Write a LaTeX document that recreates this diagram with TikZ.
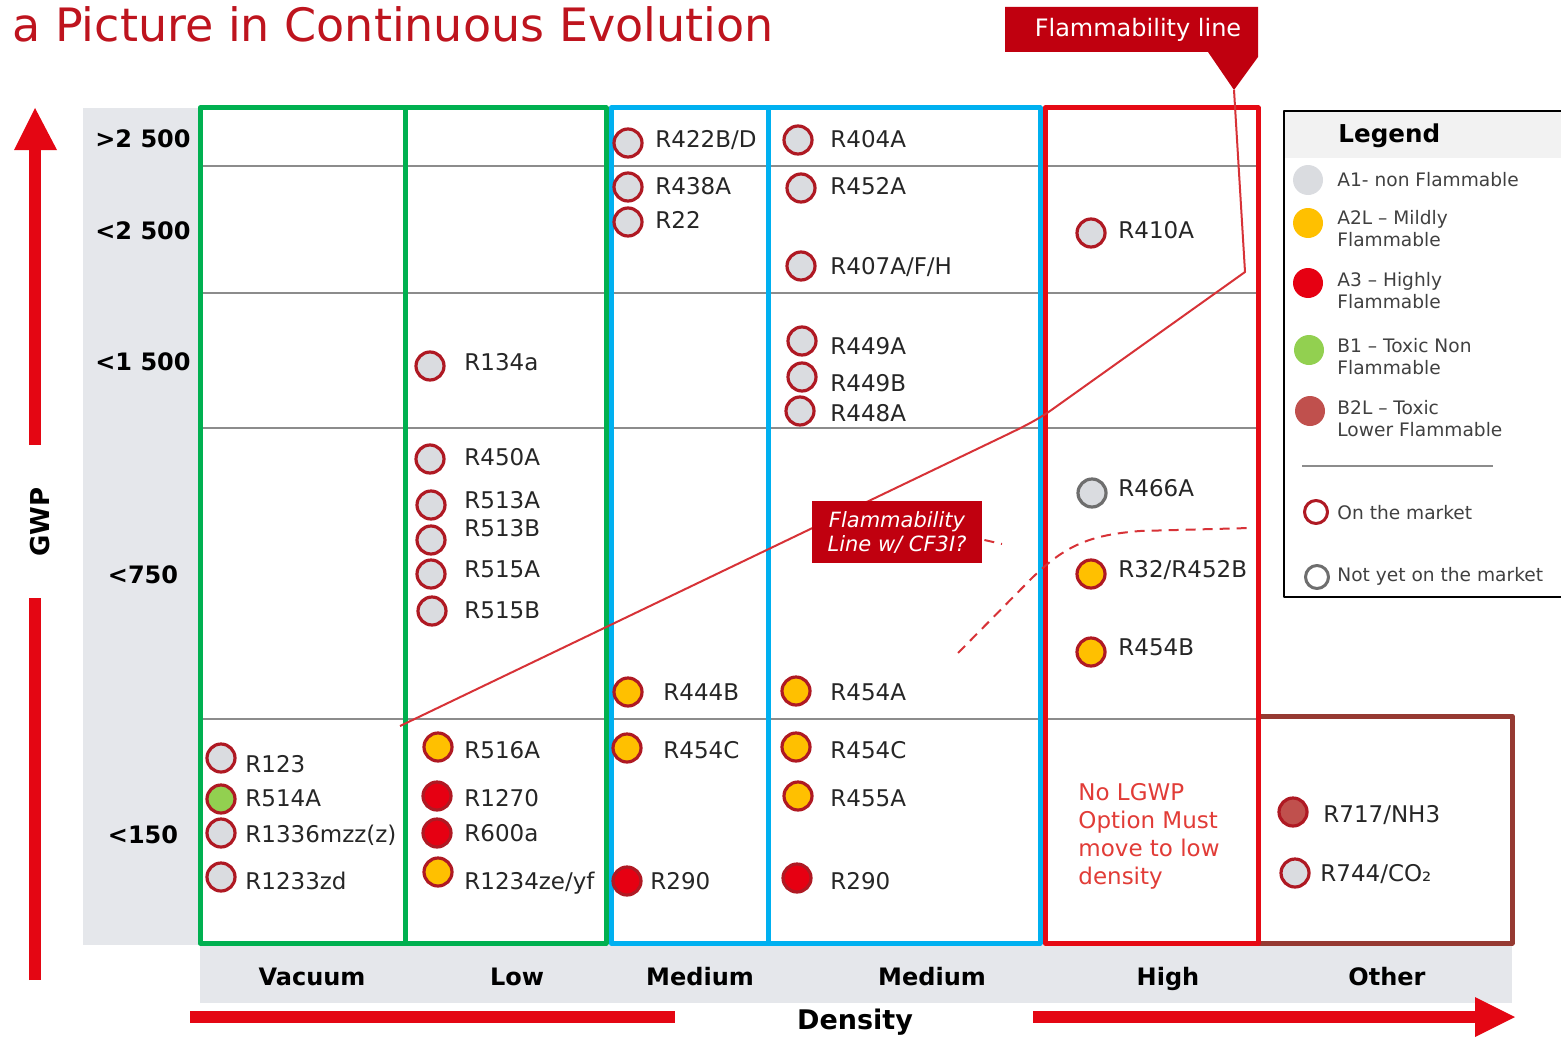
\documentclass[tikz,border=0pt]{standalone}
\usepackage{fontspec}
\setmainfont{DejaVu Sans}[ItalicFont={DejaVu Sans Oblique},BoldFont={DejaVu Sans Bold}]
\usepackage{tikz}
\definecolor{titlered}{RGB}{190,20,30}
\definecolor{panelgray}{RGB}{229,231,235}
\definecolor{gridgray}{RGB}{140,140,140}
\definecolor{boxgreen}{RGB}{0,176,80}
\definecolor{boxblue}{RGB}{0,176,240}
\definecolor{boxred}{RGB}{230,10,20}
\definecolor{boxbrown}{RGB}{150,58,50}
\definecolor{axisred}{RGB}{228,6,19}
\definecolor{ringred}{RGB}{175,25,35}
\definecolor{ringgray}{RGB}{110,110,110}
\definecolor{aone}{RGB}{218,220,224}
\definecolor{atwol}{RGB}{255,192,0}
\definecolor{athree}{RGB}{230,0,18}
\definecolor{bone}{RGB}{146,208,80}
\definecolor{btwol}{RGB}{192,80,77}
\definecolor{calloutred}{RGB}{192,0,15}
\definecolor{flamered}{RGB}{215,50,55}
\definecolor{lgwpred}{RGB}{225,60,55}
\definecolor{labtext}{RGB}{38,38,38}
\definecolor{legtextgray}{RGB}{64,64,64}

\begin{document}
\begin{tikzpicture}[x=0.5pt, y=-0.5pt, line join=round,
  gas/.style={circle, draw=ringred, line width=1.6pt, minimum size=14pt, inner sep=0pt},
  lab/.style={anchor=west, inner sep=0pt, text=labtext, font=\fontsize{11.5}{13}\selectfont, text height=8.4pt, text depth=0pt},
  axislab/.style={inner sep=0pt, text height=8.75pt, text depth=0pt, font=\bfseries\fontsize{12}{14}\selectfont},
  gridline/.style={draw=gridgray, line width=1pt},
  colbox/.style={line width=2.5pt},
  axisbar/.style={draw=axisred, line width=6pt},
  flame/.style={draw=flamered, line width=1pt},
  flamedash/.style={flame, dash pattern=on 5pt off 3.5pt},
  callbox/.style={fill=calloutred, text=white, inner sep=0pt, align=center},
  legtext/.style={anchor=west, inner sep=0pt, text=legtextgray, align=left, font=\fontsize{9.3}{11}\selectfont},
  legdot/.style={circle, minimum size=15pt, inner sep=0pt},
  legring/.style={circle, fill=white, line width=1.5pt, minimum size=11.5pt, inner sep=0pt}]
\useasboundingbox (0,0) rectangle (1561,1038);

\node[anchor=base west, inner sep=0pt, text=titlered, font=\fontsize{23}{27}\selectfont] (title) at (12,42) {a Picture in Continuous Evolution};

\fill[panelgray] (83,108) rectangle (200,945);
\fill[panelgray] (200,945) rectangle (1512,1003);

\foreach \gy in {166,293,428,719}
  \draw[gridline] (200,\gy) -- (1258,\gy);

\draw[colbox, draw=boxbrown] (1258,716) rectangle (1512,943);
\draw[colbox, draw=boxgreen] (200,108) rectangle (405,943);
\draw[colbox, draw=boxgreen] (405,108) rectangle (606,943);
\draw[colbox, draw=boxblue] (611,108) rectangle (768,943);
\draw[colbox, draw=boxblue] (768,108) rectangle (1040,943);
\draw[colbox, draw=boxred] (1045,108) rectangle (1258,943);

\fill[calloutred] (1005,7) -- (1258,7) -- (1258,57) -- (1234,90) -- (1208,52) -- (1005,52) -- cycle;
\node[text=white, inner sep=0pt, font=\fontsize{12}{14}\selectfont] (flamelab) at (1138,30) {Flammability line};
\coordinate (ftip) at (1234,90);
\draw[flame] (ftip) -- (1245,272) -- (1050,411) .. controls (1035,421) and (1025,426) .. (1000,438) -- (400,726);

\coordinate (cfend) at (1002,544);
\coordinate (dashstart) at (958,653);
\coordinate (dashend) at (1250,528);
\draw[flamedash] (dashstart) -- (1030,580) .. controls (1065,545) and (1090,535) .. (1140,531) -- (dashend);

\foreach \cx/\cy/\kind/\lx/\ly/\txt [count=\i] in {
  221/758/aone/245/764/R123, 221/799/bone/245/798/R514A,
  221/833/aone/245/834/R1336mzz(z), 221/877/aone/245/881/R1233zd,
  430/366/aone/464/362/R134a, 430/459/aone/464/457/R450A,
  431/505/aone/464/500/R513A, 431/540/aone/464/528/R513B,
  431/574/aone/464/569/R515A, 432/611/aone/464/610/R515B,
  438/747/atwol/464/750/R516A, 437/796/athree/464/798/R1270,
  437/833/athree/464/833/R600a, 438/872/atwol/464/881/{R1234ze/yf},
  628/143/aone/655/139/{R422B/D}, 628/187/aone/655/186/R438A,
  628/222/aone/655/220/R22, 628/692/atwol/663/692/R444B,
  627/748/atwol/663/750/R454C, 627/881/athree/650/881/R290,
  798/140/aone/830/139/R404A, 801/188/aone/830/186/R452A,
  801/266/aone/830/266/{R407A/F/H}, 802/341/aone/830/346/R449A,
  802/377/aone/830/383/R449B, 800/411/aone/830/413/R448A,
  796/691/atwol/830/692/R454A, 796/747/atwol/830/750/R454C,
  798/796/atwol/830/798/R455A, 797/878/athree/830/881/R290,
  1091/233/aone/1118/230/R410A, 1091/574/atwol/1118/569/{R32/R452B},
  1091/652/atwol/1118/647/R454B, 1293/812/btwol/1323/814/{R717/NH3},
  1295/873/aone/1320/873/{R744/CO₂}}{
  \node[gas, fill=\kind] (g\i) at (\cx,\cy) {};
  \node[lab] (t\i) at (\lx,\ly) {\txt};
}
\node[gas, draw=ringgray, fill=aone] (gnew) at (1092,493) {};
\node[lab] (tnew) at (1118,488) {R466A};

\node[lab, text=lgwpred, align=left, text height=, text depth=, font=\fontsize{11.5}{14}\selectfont] (nolgwp) at (1078,836) {No LGWP\\Option Must\\move to low\\density};

\node[callbox, minimum width=85pt, minimum height=31pt, font=\itshape\fontsize{10.5}{12}\selectfont] (cfthree) at (897,532) {Flammability\\Line w/ CF3I?};
\draw[flamedash] (cfthree.east) ++(2,8) -- (cfend);

\draw[black, line width=1pt] (1284,111) rectangle (1570,597);
\fill[black!5] (1285,112) rectangle (1561,158);
\node[anchor=west, inner sep=0pt, font=\bfseries\fontsize{12.3}{14}\selectfont] (legtitle) at (1338,136) {Legend};
\node[legdot, fill=aone] (lone) at (1308,180) {};
\node[legtext] (ltone) at (1337,180) {A1- non Flammable};
\node[legdot, fill=atwol] (ltwo) at (1308,223) {};
\node[legtext] (lttwo) at (1337,229) {A2L – Mildly\\Flammable};
\node[legdot, fill=athree] (lthree) at (1308,283) {};
\node[legtext] (ltthree) at (1337,291) {A3 – Highly\\Flammable};
\node[legdot, fill=bone] (lfour) at (1309,350) {};
\node[legtext] (ltfour) at (1337,357) {B1 – Toxic Non\\Flammable};
\node[legdot, fill=btwol] (lfive) at (1310,411) {};
\node[legtext] (ltfive) at (1337,419) {B2L – Toxic\\Lower Flammable};
\draw[gridline] (1302,466) -- (1493,466);
\node[legring, draw=ringred] (lsix) at (1316,512) {};
\node[legtext] (ltsix) at (1337,513) {On the market};
\node[legring, draw=ringgray] (lseven) at (1317,577) {};
\node[legtext] (ltseven) at (1337,576) {Not yet on the market};

\draw[axisbar] (35,980) -- (35,598);
\draw[axisbar] (35,445) -- (35,146);
\fill[axisred] (14,150) -- (35,108) -- (57,150) -- cycle;
\node[inner sep=0pt, rotate=90, font=\bfseries\fontsize{13}{15}\selectfont] (gwp) at (40,522) {GWP};
\node[axislab] (rowa) at (143,139) {>2 500};
\node[axislab] (rowb) at (143,231) {<2 500};
\node[axislab] (rowc) at (143,362) {<1 500};
\node[axislab] (rowd) at (143,575) {<750};
\node[axislab] (rowe) at (143,835) {<150};

\draw[axisbar] (190,1017) -- (675,1017);
\draw[axisbar] (1033,1017) -- (1478,1017);
\fill[axisred] (1475,997) -- (1515,1017) -- (1475,1037) -- cycle;
\node[axislab] (cola) at (312,977) {Vacuum};
\node[axislab] (colb) at (517,977) {Low};
\node[axislab] (colc) at (700,977) {Medium};
\node[axislab] (cold) at (932,977) {Medium};
\node[axislab] (cole) at (1168,977) {High};
\node[axislab] (colf) at (1387,977) {Other};
\node[inner sep=0pt, font=\bfseries\fontsize{13.5}{15}\selectfont] (density) at (855,1022) {Density};
\end{tikzpicture}
\end{document}
